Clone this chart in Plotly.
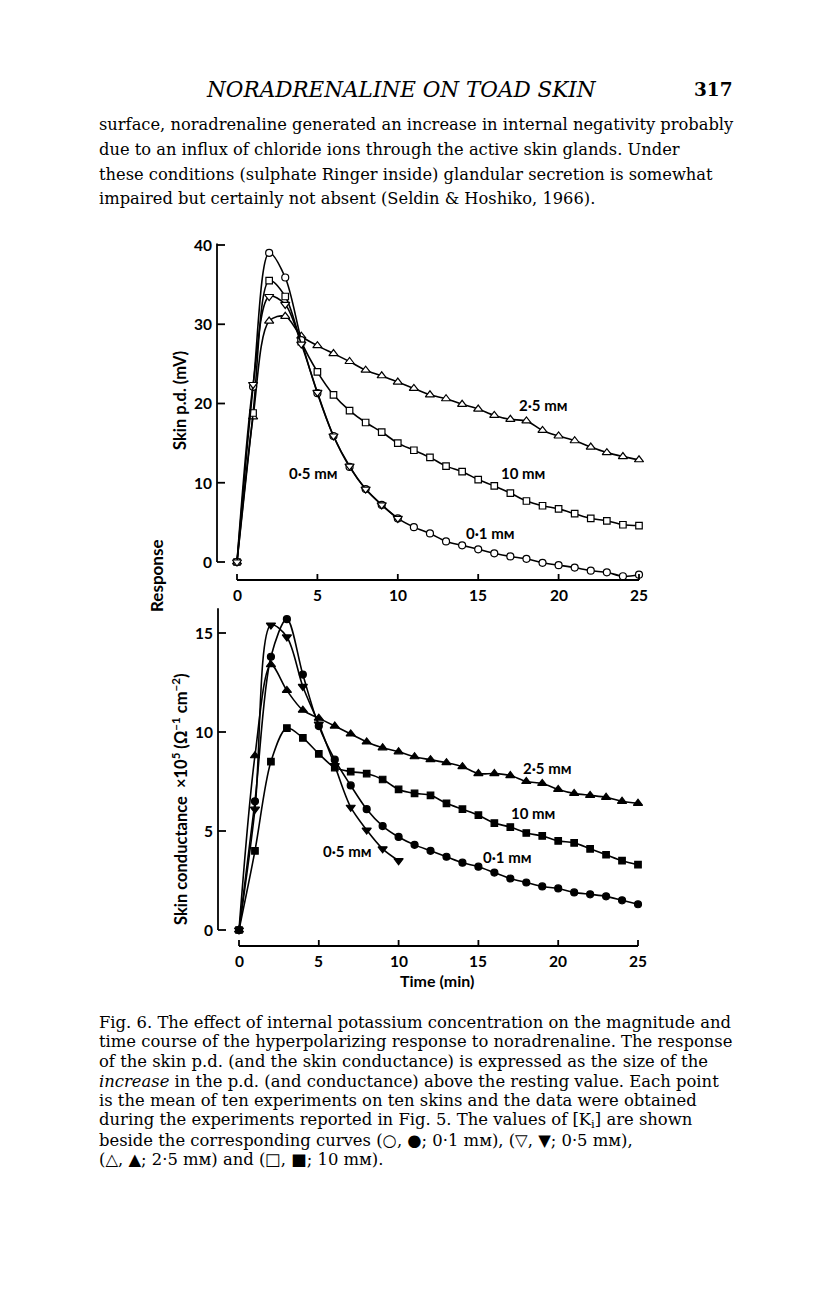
import plotly.graph_objects as go

# page geometry: the browser adds an 8px body margin, so the figure is drawn at (8, 8)
OFF = 8
PAGE_W, PAGE_H = 816, 1296
W, H = PAGE_W - OFF, PAGE_H - OFF

# ---------------- data ----------------
time = list(range(26))
time_05 = list(range(11))

# Skin p.d. response (mV), open symbols
pd_01 = [0, 22.1, 39.0, 35.9, 28.0, 21.3, 15.9, 12.0, 9.2, 7.2, 5.5, 4.4, 3.6, 2.6, 2.1, 1.6,
         1.1, 0.7, 0.4, -0.1, -0.4, -0.7, -1.1, -1.3, -1.8, -1.6]
pd_05 = [0, 22.4, 33.5, 32.5, 27.5, 21.4, 15.9, 12.1, 9.2, 7.2, 5.5]
pd_25 = [0, 18.3, 30.4, 31.0, 28.5, 27.3, 26.3, 25.3, 24.2, 23.5, 22.7, 21.9, 21.1, 20.6, 19.9,
         19.3, 18.5, 18.0, 17.8, 16.6, 15.9, 15.3, 14.5, 13.8, 13.3, 12.9]
pd_10 = [0, 18.8, 35.5, 33.5, 27.8, 24.0, 21.1, 19.1, 17.6, 16.4, 15.0, 14.1, 13.2, 12.1, 11.4,
         10.4, 9.6, 8.7, 7.7, 7.1, 6.7, 6.1, 5.5, 5.2, 4.7, 4.6]

# Skin conductance response (x10^5 ohm^-1 cm^-2), filled symbols
gc_01 = [0, 6.5, 13.8, 15.7, 12.9, 10.3, 8.6, 7.3, 6.1, 5.25, 4.7, 4.3, 4.0, 3.7, 3.4, 3.2,
         2.9, 2.6, 2.4, 2.2, 2.1, 1.9, 1.8, 1.7, 1.5, 1.3]
gc_05 = [0, 6.1, 15.4, 14.8, 12.3, 10.4, 8.3, 6.2, 5.05, 4.1, 3.5]
gc_25 = [0, 8.8, 13.4, 12.1, 11.1, 10.7, 10.3, 9.9, 9.5, 9.2, 9.0, 8.75, 8.6, 8.45, 8.25,
         7.9, 7.9, 7.8, 7.5, 7.4, 7.1, 6.9, 6.8, 6.7, 6.5, 6.4]
gc_10 = [0, 4.0, 8.5, 10.2, 9.7, 8.9, 8.2, 8.0, 7.9, 7.6, 7.1, 6.9, 6.8, 6.4, 6.1, 5.8,
         5.4, 5.2, 4.9, 4.75, 4.5, 4.4, 4.1, 3.8, 3.5, 3.3]

x_ticks = [0, 5, 10, 15, 20, 25]
pd_ticks = [0, 10, 20, 30, 40]
gc_ticks = [0, 5, 10, 15]

mM = "mᴍ"          # millimolar with small-capital M, as printed
curve_labels = ["2·5 " + mM, "10 " + mM, "0·5 " + mM, "0·1 " + mM]

# ---------------- layout calibration (page pixel geometry) ----------------
panels = {
    "top": dict(x0=237, xs=16.08, y0=562, ys=7.925, dom=(226, 598), xline=580, yline=217,
                ytop=40.2, ax="x", ay="y", ticks=pd_ticks),
    "bot": dict(x0=239, xs=15.96, y0=930, ys=19.8, dom=(600, 978), xline=946, yline=218,
                ytop=16.25, ax="x2", ay="y2", ticks=gc_ticks),
}

FIG_FONT = "Lato"
SERIF = "DejaVu Serif"


def dx(p, px):
    return (px - p["x0"]) / p["xs"]


def dy(p, py):
    return (p["y0"] - py) / p["ys"]


fig = go.Figure()

LINE_W = 1.6
MK_LINE = 1.2


def add_series(xs, ys, symbol, filled, size, p):
    fig.add_trace(go.Scatter(
        x=xs, y=ys, mode="lines+markers",
        line=dict(color="black", width=LINE_W, shape="spline", smoothing=0.9),
        marker=dict(symbol=symbol, size=size, color="black" if filled else "white",
                    line=dict(color="black", width=MK_LINE)),
        xaxis=p["ax"], yaxis=p["ay"], showlegend=False, cliponaxis=False,
    ))


P1, P2 = panels["top"], panels["bot"]
add_series(time, pd_25, "triangle-up", False, 8, P1)
add_series(time, pd_10, "square", False, 6.5, P1)
add_series(time, pd_01, "circle", False, 7, P1)
add_series(time_05, pd_05, "triangle-down", False, 8, P1)

add_series(time, gc_25, "triangle-up", True, 8, P2)
add_series(time, gc_10, "square", True, 6.5, P2)
add_series(time, gc_01, "circle", True, 7, P2)
add_series(time_05, gc_05, "triangle-down", True, 8, P2)

shapes = []
annotations = []
TICK_FONT = dict(family=FIG_FONT, size=15.5, color="black", weight="bold")

for key, p in panels.items():
    xr, yr = p["ax"], p["ay"]
    # y axis line
    xa = dx(p, p["yline"])
    shapes.append(dict(type="line", xref=xr, yref=yr, x0=xa, x1=xa, y0=0, y1=p["ytop"],
                       line=dict(color="black", width=1.8)))
    for v in p["ticks"]:
        shapes.append(dict(type="line", xref=xr, yref=yr, x0=xa, x1=dx(p, p["yline"] + 8),
                           y0=v, y1=v, line=dict(color="black", width=1.8)))
        annotations.append(dict(xref=xr, yref=yr, x=dx(p, p["yline"] - 3), y=v, text=str(v),
                                xanchor="right", yanchor="middle", showarrow=False,
                                font=TICK_FONT))
    # x axis line
    ya = dy(p, p["xline"])
    shapes.append(dict(type="line", xref=xr, yref=yr, x0=x_ticks[0], x1=x_ticks[-1], y0=ya, y1=ya,
                       line=dict(color="black", width=1.8)))
    for v in x_ticks:
        shapes.append(dict(type="line", xref=xr, yref=yr, x0=v, x1=v, y0=ya,
                           y1=dy(p, p["xline"] - 6), line=dict(color="black", width=1.8)))
        annotations.append(dict(xref=xr, yref=yr, x=v, y=dy(p, p["xline"] + 4), text=str(v),
                                xanchor="center", yanchor="top", showarrow=False,
                                font=TICK_FONT))


def ptext(x, y, text, size=15, family=FIG_FONT, anchor="center", angle=0, weight="bold",
          yanchor="middle"):
    annotations.append(dict(xref="paper", yref="paper", x=(x - OFF) / W, y=1 - (y - OFF) / H,
                            text=text, xanchor=anchor, yanchor=yanchor, showarrow=False,
                            textangle=angle,
                            font=dict(family=family, size=size, color="black", weight=weight)))


# curve labels (top panel, then bottom panel)
for (x, y), lab in zip([(543, 405), (523, 473), (313, 473), (490, 533)], curve_labels):
    ptext(x, y, lab)
for (x, y), lab in zip([(547, 768), (533, 813), (347, 851), (507, 857)], curve_labels):
    ptext(x, y, lab)

# axis titles
NB = "\u00a0"
ptext(180, 401, "Skin p.d. (mV)", size=16.5, angle=-90)
ptext(156, 576, "Response", size=17, angle=-90)
ptext(180, 800, "Skin conductance" + NB * 2 + "×10<sup>5</sup> (Ω<sup>−1</sup> cm<sup>−2</sup>)",
      size=16.5, angle=-90)
ptext(437, 980, "Time (min)", size=16)

# page header and body text
ptext(401, 90, "<i>NORADRENALINE ON TOAD SKIN</i>", size=21.5, family=SERIF, weight="normal")
ptext(735, 90, "317", size=18.5, family=SERIF, anchor="right", weight="bold")

body = [
    "surface, noradrenaline generated an increase in internal negativity probably",
    "due to an influx of chloride ions through the active skin glands. Under",
    "these conditions (sulphate Ringer inside) glandular secretion is somewhat",
    "impaired but certainly not absent (Seldin & Hoshiko, 1966).",
]
for i, line in enumerate(body):
    ptext(97, 125 + i * 24.6, line, size=16.3, family=SERIF, anchor="left", weight="normal")

caption = [
    "Fig. 6. The effect of internal potassium concentration on the magnitude and",
    "time course of the hyperpolarizing response to noradrenaline. The response",
    "of the skin p.d. (and the skin conductance) is expressed as the size of the",
    "<i>increase</i> in the p.d. (and conductance) above the resting value. Each point",
    "is the mean of ten experiments on ten skins and the data were obtained",
    "during the experiments reported in Fig. 5. The values of [K<sub>i</sub>] are shown",
    "beside the corresponding curves (○, ●; 0·1 " + mM + "), (▽, ▼; 0·5 " + mM + "),",
    "(△, ▲; 2·5 " + mM + ") and (□, ■; 10 " + mM + ").",
]
for i, line in enumerate(caption):
    ptext(97, 1022 + i * 19.7, line, size=16.4, family=SERIF, anchor="left", weight="normal")


# axes (invisible, used only as coordinate systems)
def axis_dict(rng, dom, anchor):
    return dict(range=rng, domain=dom, visible=False, fixedrange=True, anchor=anchor)


def ydom(p):
    return [1 - (p["dom"][1] - OFF) / H, 1 - (p["dom"][0] - OFF) / H]


fig.update_layout(
    width=W, height=H,
    margin=dict(l=0, r=0, t=0, b=0),
    paper_bgcolor="white", plot_bgcolor="rgba(0,0,0,0)",
    xaxis=axis_dict([dx(P1, OFF), dx(P1, OFF + W)], [0, 1], "y"),
    yaxis=axis_dict([dy(P1, P1["dom"][1]), dy(P1, P1["dom"][0])], ydom(P1), "x"),
    xaxis2=axis_dict([dx(P2, OFF), dx(P2, OFF + W)], [0, 1], "y2"),
    yaxis2=axis_dict([dy(P2, P2["dom"][1]), dy(P2, P2["dom"][0])], ydom(P2), "x2"),
    shapes=shapes,
    annotations=annotations,
    showlegend=False,
)

fig.write_html("out.html")
